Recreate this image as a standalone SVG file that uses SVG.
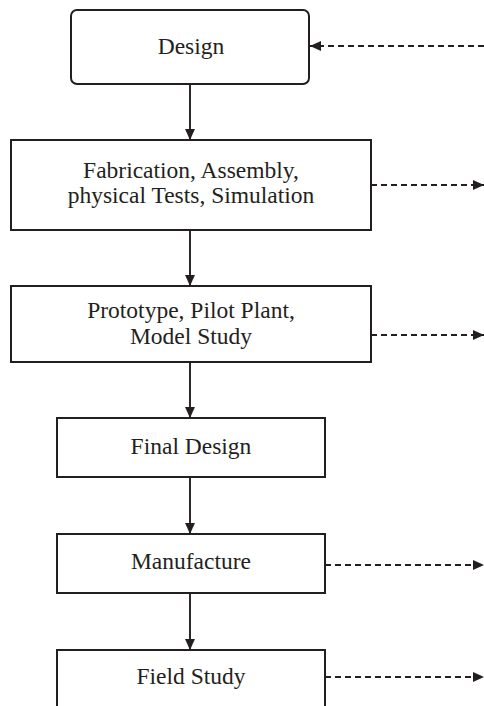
<svg xmlns="http://www.w3.org/2000/svg" width="484" height="706" viewBox="0 0 484 706">
<style>
.box{fill:#fff;stroke:#231f20;stroke-width:2}
.lbl{font-family:"Liberation Serif","Times New Roman",serif;font-size:23.5px;fill:#231f20;text-anchor:middle}
.flow{stroke:#231f20;stroke-width:1.9;fill:none}
.dash{stroke:#231f20;stroke-width:1.9;fill:none;stroke-dasharray:6 4}
</style>
<defs>
<marker id="ah" viewBox="0 0 10 10" refX="10" refY="5" markerWidth="11" markerHeight="11" markerUnits="userSpaceOnUse" orient="auto">
<path d="M0,0.5 L10,5 L0,9.5 Z" fill="#231f20"/>
</marker>
</defs>
<rect width="484" height="706" fill="#fff"/>
<g id="connectors">
<line class="flow" x1="190" y1="84" x2="190" y2="140" marker-end="url(#ah)"/>
<line class="flow" x1="190" y1="230" x2="190" y2="286" marker-end="url(#ah)"/>
<line class="flow" x1="190" y1="362" x2="190" y2="418" marker-end="url(#ah)"/>
<line class="flow" x1="190" y1="477" x2="190" y2="534" marker-end="url(#ah)"/>
<line class="flow" x1="190" y1="593" x2="190" y2="650" marker-end="url(#ah)"/>
<line class="dash" x1="484" y1="46" x2="310" y2="46" marker-end="url(#ah)"/>
<line class="dash" x1="371" y1="185" x2="484" y2="185" marker-end="url(#ah)"/>
<line class="dash" x1="371" y1="335" x2="484" y2="335" marker-end="url(#ah)"/>
<line class="dash" x1="325" y1="565" x2="484" y2="565" marker-end="url(#ah)"/>
<line class="dash" x1="325" y1="677" x2="484" y2="677" marker-end="url(#ah)"/>
</g>
<g id="design">
<rect class="box" x="71" y="10" width="238" height="74" rx="6"/>
<text class="lbl" x="191" y="53.5">Design</text>
</g>
<g id="fabrication">
<rect class="box" x="11" y="140" width="360" height="90"/>
<text class="lbl" x="191" y="178">Fabrication, Assembly,</text>
<text class="lbl" x="191" y="203">physical Tests, Simulation</text>
</g>
<g id="prototype">
<rect class="box" x="11" y="286" width="360" height="76"/>
<text class="lbl" x="191" y="317.5">Prototype, Pilot Plant,</text>
<text class="lbl" x="191" y="343.5">Model Study</text>
</g>
<g id="final-design">
<rect class="box" x="57" y="418" width="268" height="59"/>
<text class="lbl" x="191" y="453.5">Final Design</text>
</g>
<g id="manufacture">
<rect class="box" x="57" y="534" width="268" height="59"/>
<text class="lbl" x="191" y="569">Manufacture</text>
</g>
<g id="field-study">
<rect class="box" x="57" y="650" width="268" height="70"/>
<text class="lbl" x="191" y="683.5">Field Study</text>
</g>
</svg>
